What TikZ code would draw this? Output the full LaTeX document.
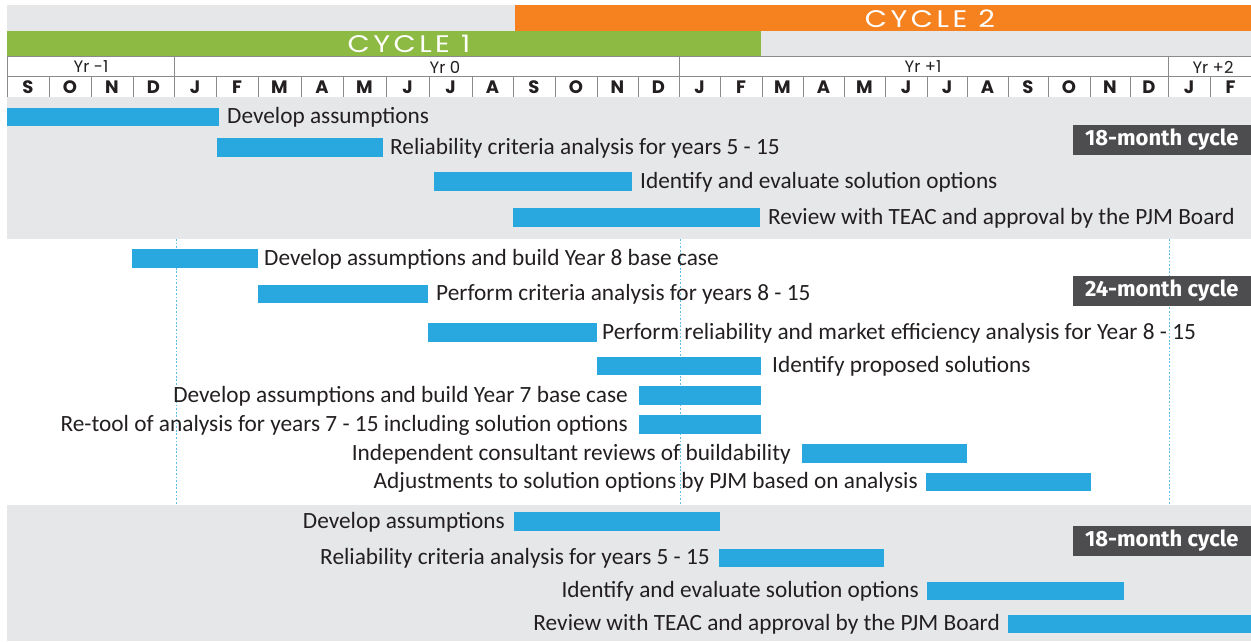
\documentclass[tikz,border=0pt]{standalone}
\usepackage{graphicx}
\usepackage{fontspec}
\setmainfont{Carlito}
\newfontfamily\hdrfont{Poppins}
\newfontfamily\cycfont[LetterSpace=12]{Poppins}
\newfontfamily\lblfont{Fira Sans}
\definecolor{bggray}{HTML}{E6E7E9}
\definecolor{cycor}{HTML}{F5821F}
\definecolor{cycgr}{HTML}{8CBA42}
\definecolor{barblue}{HTML}{29A8DF}
\definecolor{boxdark}{HTML}{4D4D4F}
\definecolor{txtdark}{HTML}{231F20}
\definecolor{cellline}{HTML}{8A8A8A}
\tikzset{
  tasklbl/.style={inner sep=0pt, text=txtdark, font=\fontsize{23.3}{23.3}\selectfont},
  barbox/.style={fill=barblue},
  monlbl/.style={inner sep=0pt, text=txtdark, font=\hdrfont\bfseries\fontsize{18}{18}\selectfont},
  yrlbl/.style={inner sep=0pt, text=txtdark, font=\hdrfont\fontsize{16.5}{16.5}\selectfont},
  cyctxt/.style={inner sep=0pt, text=white, font=\cycfont\fontsize{24}{24}\selectfont},
  cyclbl/.style={fill=boxdark, text=white, inner sep=0pt, minimum width=178pt, minimum height=30pt,
     font=\lblfont\bfseries\fontsize{22}{22}\selectfont, anchor=east},
  dotline/.style={draw=barblue!75, line width=1pt, dash pattern=on 1.8pt off 1.8pt},
  gridline/.style={draw=cellline, line width=0.8pt}
}
% name, x1, x2, ytop, ybot, text x, label
\newcommand\taskR[7]{%
  \fill[barbox] (#2,#4) rectangle (#3,#5);
  \node[tasklbl, anchor=base west] (#1) at (#6,#5-2.5) {#7};}
\newcommand\taskL[7]{%
  \fill[barbox] (#2,#4) rectangle (#3,#5);
  \node[tasklbl, anchor=base east] (#1) at (#6,#5-2.5) {#7};}
\begin{document}
\begin{tikzpicture}[x=1pt,y=-1pt]
\useasboundingbox (0,0) rectangle (1251,641);
% header backgrounds
\fill[bggray] (7,5) rectangle (1251,97);
\fill[cycor] (515,5) rectangle (1251,31);
\fill[cycgr] (7,31) rectangle (761,56);
\node[cyctxt] (cyc2) at (930,18.5) {\scalebox{1.2}[1]{CYCLE 2}};
\node[cyctxt] (cyc1) at (409,44) {\scalebox{1.2}[1]{CYCLE 1}};
% year row
\fill[white] (7,56) rectangle (1251,97);
\foreach \a/\b/\n in {7/174/1, 174/679/2, 679/1168/3, 1168/1251/4}
  \draw[gridline] (\a,56) rectangle (\b,76);
\node[yrlbl] (yrm1) at (91,67) {Yr -1};
\node[yrlbl] (yr0) at (445,67) {Yr 0};
\node[yrlbl] (yr1) at (923,67) {Yr +1};
\node[yrlbl] (yr2) at (1213,67) {Yr +2};
% month row
\foreach \a/\b/\m [count=\i] in {7/49/S, 49/91/O, 91/133/N, 133/174/D, 174/216/J, 216/258/F,
  258/301/M, 301/343/A, 343/386/M, 386/429/J, 429/472/J, 472/513/A, 513/555/S, 555/597/O,
  597/638/N, 638/679/D, 679/720/J, 720/762/F, 762/803/M, 803/844/A, 844/885/M, 885/927/J,
  927/967/J, 967/1008/A, 1008/1048/S, 1048/1090/O, 1090/1130/N, 1130/1168/D, 1168/1210/J, 1210/1251/F}
{
  \draw[gridline] (\a,76) rectangle (\b,97);
  \node[monlbl] (m\i) at ({(\a+\b)/2},87) {\m};
}
% band backgrounds
\fill[bggray] (7,97.4) rectangle (1251,239);
\fill[bggray] (7,505) rectangle (1251,641);
% dotted year lines
\coordinate (d1t) at (176,239); \coordinate (d1b) at (176,505);
\coordinate (d2t) at (680,239); \coordinate (d2b) at (680,505);
\coordinate (d3t) at (1169,239); \coordinate (d3b) at (1169,505);
\draw[dotline] (d1t) -- (d1b);
\draw[dotline] (d2t) -- (d2b);
\draw[dotline] (d3t) -- (d3b);
% top 18-month cycle
\taskR{t1}{7}{219}{108}{126}{227}{Develop assumptions}
\taskR{t2}{217}{383}{138}{157}{390}{Reliability criteria analysis for years 5 - 15}
\taskR{t3}{434}{632}{172}{191}{640}{Identify and evaluate solution options}
\taskR{t4}{513}{760}{208}{227}{768}{Review with TEAC and approval by the PJM Board}
\node[cyclbl] (c18a) at (1251,140) {18-month cycle};
% 24-month cycle
\taskR{t5}{132}{258}{249}{268}{264}{Develop assumptions and build Year 8 base case}
\taskR{t6}{258}{428}{285}{303}{436}{Perform criteria analysis for years 8 - 15}
\taskR{t7}{428}{597}{323}{342}{602}{Perform reliability and market efficiency analysis for Year 8 - 15}
\taskR{t8}{597}{761}{357}{375}{772}{Identify proposed solutions}
\taskL{t9}{639}{761}{386}{405}{628}{Develop assumptions and build Year 7 base case}
\taskL{t10}{639}{761}{415}{434}{628}{Re-tool of analysis for years 7 - 15 including solution options}
\taskL{t11}{802}{967}{444}{463}{791}{Independent consultant reviews of buildability}
\taskL{t12}{926}{1091}{473}{491}{918}{Adjustments to solution options by PJM based on analysis}
\node[cyclbl] (c24) at (1251,290.5) {24-month cycle};
% bottom 18-month cycle
\taskL{t13}{514}{720}{512}{531}{505}{Develop assumptions}
\taskL{t14}{719}{884}{549}{567}{710}{Reliability criteria analysis for years 5 - 15}
\taskL{t15}{927}{1124}{582}{600}{919}{Identify and evaluate solution options}
\taskL{t16}{1008}{1251}{615}{633}{1000}{Review with TEAC and approval by the PJM Board}
\node[cyclbl] (c18b) at (1251,540.5) {18-month cycle};
\end{tikzpicture}
\end{document}
